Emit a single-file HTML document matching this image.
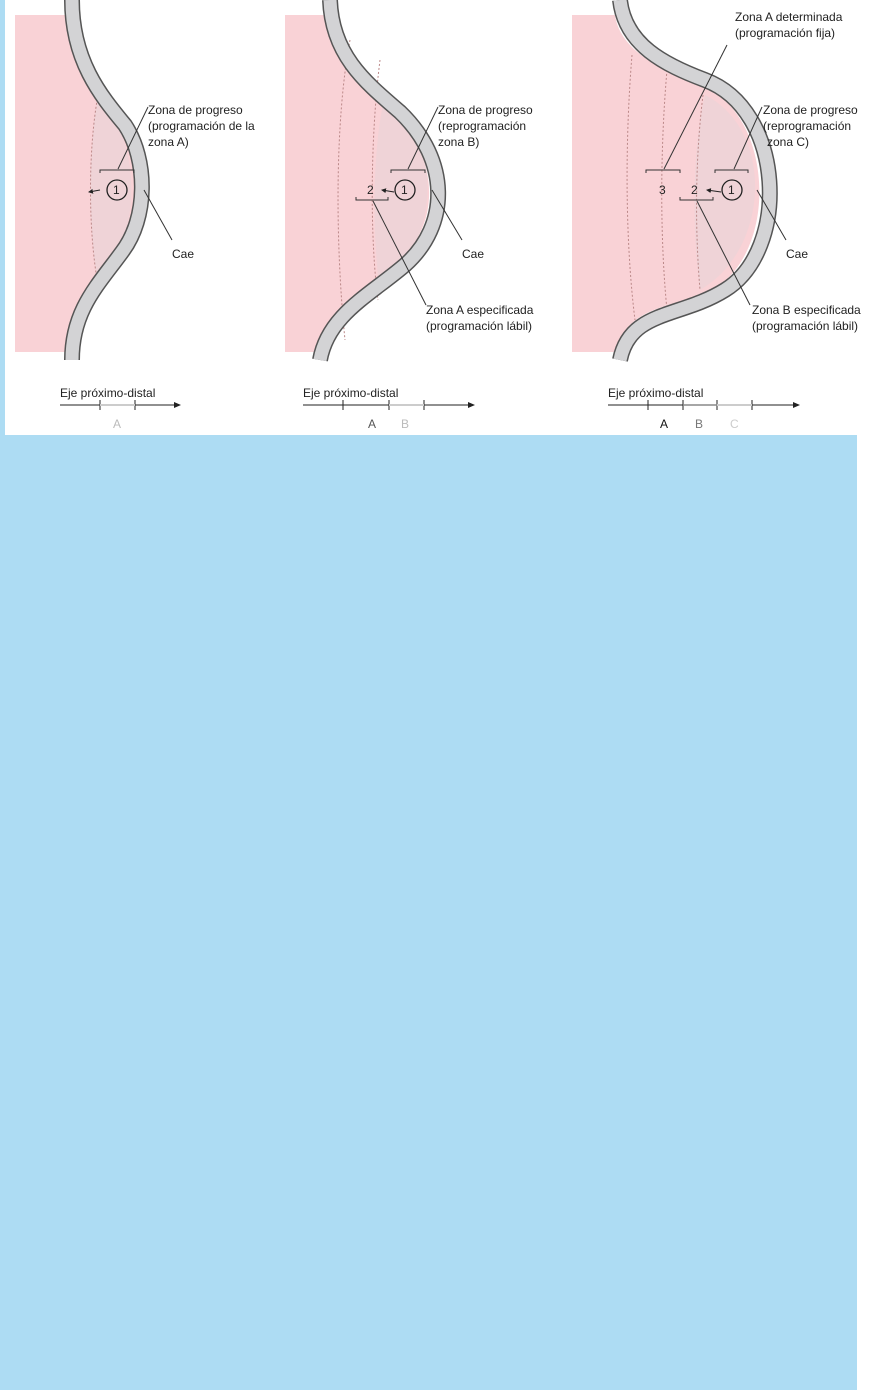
<!DOCTYPE html>
<html><head><meta charset="utf-8"><style>
html,body{margin:0;padding:0;background:#fff;width:887px;height:1390px;overflow:hidden}
svg text{font-family:"Liberation Sans",sans-serif;font-size:12px;fill:#222}
</style></head><body>
<svg width="887" height="1390" viewBox="0 0 887 1390" xmlns="http://www.w3.org/2000/svg">
<defs>
<marker id="ar" markerWidth="8" markerHeight="8" refX="6" refY="3" orient="auto"><path d="M0,0 L7,3 L0,6z" fill="#222"/></marker>
<marker id="sa" markerWidth="6" markerHeight="6" refX="4" refY="2.5" orient="auto"><path d="M0,0 L5,2.5 L0,5z" fill="#222"/></marker>
</defs>
<rect x="0" y="435" width="857" height="955" fill="#addcf3"/>
<rect x="0" y="0" width="5" height="435" fill="#addcf3"/>

<!-- Panel 1 -->
<path d="M15,15 L68,15 C68,60 95,95 120,125 C145,160 145,215 118,250 C92,285 68,310 68,352 L15,352Z" fill="#f9d2d6"/>
<path d="M98,95 C140,140 145,230 98,285 C88,230 88,150 98,95Z" fill="#efd3d7"/>
<path d="M98,95 C88,150 88,230 98,285" fill="none" stroke="#b88" stroke-width="1" stroke-dasharray="2,2"/>
<path d="M72,0 C72,60 100,95 125,125 C148,160 148,218 122,252 C98,285 72,310 72,360" fill="none" stroke="#555" stroke-width="16"/>
<path d="M72,0 C72,60 100,95 125,125 C148,160 148,218 122,252 C98,285 72,310 72,360" fill="none" stroke="#d3d3d5" stroke-width="13"/>
<path d="M100,173 L100,170 L134,170 L134,173" fill="none" stroke="#333"/>
<circle cx="117" cy="190" r="10" fill="none" stroke="#222" stroke-width="1.3"/>
<text x="113" y="194" font-size="11">1</text>
<path d="M100,190 L89,192" stroke="#222" marker-end="url(#sa)"/>
<line x1="118" y1="169" x2="148" y2="107" stroke="#333"/>
<line x1="144" y1="190" x2="172" y2="240" stroke="#333"/>
<text x="148" y="114">Zona de progreso</text>
<text x="148" y="130">(programación de la</text>
<text x="148" y="146">zona A)</text>
<text x="172" y="258">Cae</text>
<text x="60" y="397">Eje próximo-distal</text>
<line x1="60" y1="405" x2="180" y2="405" stroke="#222" marker-end="url(#ar)"/>
<line x1="100" y1="400" x2="100" y2="410" stroke="#222"/><line x1="135" y1="400" x2="135" y2="410" stroke="#222"/>
<line x1="100" y1="405" x2="135" y2="405" stroke="#ccc" stroke-width="2"/>
<text x="113" y="428" style="fill:#bbb">A</text>

<!-- Panel 2 -->
<path d="M285,15 L325,15 C330,60 365,85 395,115 C440,160 440,225 398,262 C370,290 325,310 322,352 L285,352Z" fill="#f9d2d6"/>
<path d="M385,95 C440,140 445,230 380,295 C372,230 372,150 385,95Z" fill="#efd3d7"/>
<path d="M350,40 C335,120 335,240 345,340" fill="none" stroke="#b88" stroke-dasharray="2,2"/>
<path d="M380,60 C370,140 370,240 378,300" fill="none" stroke="#b88" stroke-dasharray="2,2"/>
<path d="M330,0 C332,55 365,82 400,112 C450,160 450,225 405,265 C370,295 328,315 320,360" fill="none" stroke="#555" stroke-width="16"/>
<path d="M330,0 C332,55 365,82 400,112 C450,160 450,225 405,265 C370,295 328,315 320,360" fill="none" stroke="#d3d3d5" stroke-width="13"/>
<path d="M391,173 L391,170 L425,170 L425,173" fill="none" stroke="#333"/>
<path d="M356,197 L356,200 L388,200 L388,197" fill="none" stroke="#333"/>
<circle cx="405" cy="190" r="10" fill="none" stroke="#222" stroke-width="1.3"/>
<text x="401" y="194" font-size="11">1</text>
<text x="367" y="194">2</text>
<path d="M394,192 L382,190" stroke="#222" marker-end="url(#sa)"/>
<line x1="408" y1="169" x2="438" y2="107" stroke="#333"/>
<line x1="432" y1="190" x2="462" y2="240" stroke="#333"/>
<line x1="373" y1="201" x2="426" y2="305" stroke="#333"/>
<text x="438" y="114">Zona de progreso</text>
<text x="438" y="130">(reprogramación</text>
<text x="438" y="146">zona B)</text>
<text x="462" y="258">Cae</text>
<text x="426" y="314">Zona A especificada</text>
<text x="426" y="330">(programación lábil)</text>
<text x="303" y="397">Eje próximo-distal</text>
<line x1="303" y1="405" x2="474" y2="405" stroke="#222" marker-end="url(#ar)"/>
<line x1="343" y1="400" x2="343" y2="410" stroke="#222"/><line x1="389" y1="400" x2="389" y2="410" stroke="#222"/><line x1="424" y1="400" x2="424" y2="410" stroke="#222"/>
<line x1="389" y1="405" x2="424" y2="405" stroke="#ccc" stroke-width="2"/>
<text x="368" y="428" style="fill:#555">A</text>
<text x="401" y="428" style="fill:#bbb">B</text>

<!-- Panel 3 -->
<path d="M572,15 L615,15 C620,50 660,70 700,85 C770,110 780,240 720,285 C680,310 630,300 615,352 L572,352Z" fill="#f9d2d6"/>
<path d="M705,95 C775,130 770,250 700,290 C692,230 692,150 705,95Z" fill="#efd3d7"/>
<path d="M632,55 C625,140 625,240 635,320" fill="none" stroke="#b88" stroke-dasharray="2,2"/>
<path d="M667,70 C660,150 660,240 667,310" fill="none" stroke="#b88" stroke-dasharray="2,2"/>
<path d="M703,95 C695,160 695,230 700,290" fill="none" stroke="#b88" stroke-dasharray="2,2"/>
<path d="M620,0 C625,45 665,65 705,80 C785,110 790,250 725,290 C680,318 630,310 620,360" fill="none" stroke="#555" stroke-width="16"/>
<path d="M620,0 C625,45 665,65 705,80 C785,110 790,250 725,290 C680,318 630,310 620,360" fill="none" stroke="#d3d3d5" stroke-width="13"/>
<path d="M646,173 L646,170 L680,170 L680,173" fill="none" stroke="#333"/>
<path d="M680,197 L680,200 L713,200 L713,197" fill="none" stroke="#333"/>
<path d="M715,173 L715,170 L748,170 L748,173" fill="none" stroke="#333"/>
<circle cx="732" cy="190" r="10" fill="none" stroke="#222" stroke-width="1.3"/>
<text x="728" y="194" font-size="11">1</text>
<text x="659" y="194">3</text>
<text x="691" y="194">2</text>
<path d="M721,192 L707,190" stroke="#222" marker-end="url(#sa)"/>
<line x1="664" y1="169" x2="727" y2="45" stroke="#333"/>
<line x1="734" y1="169" x2="762" y2="107" stroke="#333"/>
<line x1="757" y1="190" x2="786" y2="240" stroke="#333"/>
<line x1="697" y1="201" x2="750" y2="305" stroke="#333"/>
<text x="735" y="21">Zona A determinada</text>
<text x="735" y="37">(programación fija)</text>
<text x="763" y="114">Zona de progreso</text>
<text x="763" y="130">(reprogramación</text>
<text x="767" y="146">zona C)</text>
<text x="786" y="258">Cae</text>
<text x="752" y="314">Zona B especificada</text>
<text x="752" y="330">(programación lábil)</text>
<text x="608" y="397">Eje próximo-distal</text>
<line x1="608" y1="405" x2="799" y2="405" stroke="#222" marker-end="url(#ar)"/>
<line x1="648" y1="400" x2="648" y2="410" stroke="#222"/><line x1="683" y1="400" x2="683" y2="410" stroke="#222"/><line x1="717" y1="400" x2="717" y2="410" stroke="#222"/><line x1="752" y1="400" x2="752" y2="410" stroke="#222"/>
<line x1="683" y1="405" x2="717" y2="405" stroke="#888" stroke-width="1.5"/>
<line x1="717" y1="405" x2="752" y2="405" stroke="#ccc" stroke-width="2"/>
<text x="660" y="428" style="fill:#111">A</text>
<text x="695" y="428" style="fill:#777">B</text>
<text x="730" y="428" style="fill:#ccc">C</text>
</svg>
</body></html>
